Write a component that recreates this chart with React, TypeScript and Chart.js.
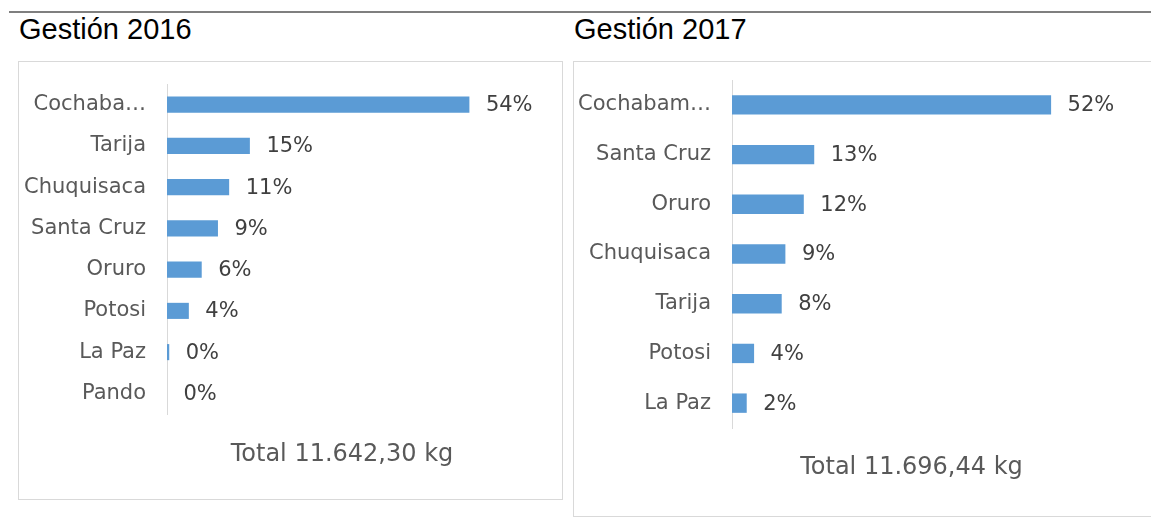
import React, { useEffect, useRef } from "react";
import { Chart, registerables } from "chart.js";

Chart.register(...registerables);

// ---- data ----
const categories2016 = ["Cochaba…", "Tarija", "Chuquisaca", "Santa Cruz", "Oruro", "Potosi", "La Paz", "Pando"];
const values2016 = [54.0, 14.8, 11.1, 9.1, 6.2, 3.9, 0.4, 0.0];
const total2016 = "Total 11.642,30 kg";
const title2016 = "Gestión 2016";

const categories2017 = ["Cochabam…", "Santa Cruz", "Oruro", "Chuquisaca", "Tarija", "Potosi", "La Paz"];
const values2017 = [52.0, 13.4, 11.7, 8.7, 8.1, 3.6, 2.4];
const total2017 = "Total 11.696,44 kg";
const title2017 = "Gestión 2017";

const FONT = "'DejaVu Sans', Verdana, sans-serif";
const BAR = "#5B9BD5";

const dataLabelPlugin = {
  id: "pctLabels",
  afterDatasetsDraw(chart: any) {
    const ctx = chart.ctx;
    const meta = chart.getDatasetMeta(0);
    const vals = chart.data.datasets[0].data as number[];
    ctx.save();
    ctx.font = `21px ${FONT}`;
    ctx.fillStyle = "#404040";
    ctx.textAlign = "left";
    ctx.textBaseline = "middle";
    meta.data.forEach((bar: any, i: number) => {
      ctx.fillText(`${Math.round(vals[i])}%`, bar.x + 16.5, bar.y + 1);
    });
    ctx.restore();
  },
};

type PanelProps = {
  width: number;
  height: number;
  labels: string[];
  values: number[];
  total: string;
  max: number;
  yWidth: number;
  padTop: number;
  padRight: number;
  padBottom: number;
  titlePadTop: number;
};

function BarPanel(p: PanelProps) {
  const ref = useRef<HTMLCanvasElement | null>(null);
  useEffect(() => {
    if (!ref.current) return;
    const chart = new Chart(ref.current, {
      type: "bar",
      data: {
        labels: p.labels,
        datasets: [
          {
            data: p.values,
            backgroundColor: BAR,
            borderWidth: 0,
            categoryPercentage: 1,
            barPercentage: 0.39,
          },
        ],
      },
      options: {
        indexAxis: "y",
        responsive: false,
        animation: false,
        events: [],
        layout: { padding: { left: 0, top: p.padTop, right: p.padRight, bottom: p.padBottom } },
        plugins: { legend: { display: false }, tooltip: { enabled: false }, title: { display: false } },
        scales: {
          x: {
            min: 0,
            max: p.max,
            ticks: { display: false },
            grid: { display: false, drawTicks: false },
            border: { display: false },
            title: {
              display: true,
              text: p.total,
              color: "#595959",
              font: { family: FONT, size: 24 },
              padding: { top: p.titlePadTop, bottom: 0 },
            },
          },
          y: {
            afterFit: (scale: any) => {
              scale.width = p.yWidth;
              scale.paddingTop = 0;
              scale.paddingBottom = 0;
            },
            ticks: {
              color: "#595959",
              font: { family: FONT, size: 21 },
              padding: 21,
              autoSkip: false,
            },
            grid: { display: false, drawTicks: false },
            border: { display: true, color: "#d9d9d9", width: 1 },
          },
        },
      },
      plugins: [dataLabelPlugin],
    } as any);
    return () => chart.destroy();
  }, []);
  return <canvas ref={ref} width={p.width} height={p.height} style={{ display: "block" }} />;
}

const titleStyle: React.CSSProperties = {
  position: "absolute",
  fontFamily: "'Liberation Sans', Arial, sans-serif",
  fontSize: 29,
  lineHeight: "29px",
  color: "#000",
  whiteSpace: "nowrap",
};

export default function App() {
  return (
    <div style={{ position: "absolute", left: 0, top: 0, width: 1151, height: 527, overflow: "hidden", background: "#fff" }}>
      <div style={{ position: "absolute", left: 9, top: 11, width: 1142, height: 2, background: "#7f7f7f" }} />
      <div style={{ ...titleStyle, left: 19, top: 15 }}>{title2016}</div>
      <div style={{ ...titleStyle, left: 574, top: 15 }}>{title2017}</div>
      <div
        style={{
          position: "absolute",
          left: 18,
          top: 61,
          width: 543,
          height: 437,
          border: "1px solid #d9d9d9",
        }}
      >
        <BarPanel
          width={543}
          height={437}
          labels={categories2016}
          values={values2016}
          total={total2016}
          max={62.5}
          yWidth={148}
          padTop={22}
          padRight={45}
          padBottom={29.6}
          titlePadTop={26.6}
        />
      </div>
      <div
        style={{
          position: "absolute",
          left: 573,
          top: 61,
          width: 600,
          height: 454,
          border: "1px solid #d9d9d9",
        }}
      >
        <BarPanel
          width={577}
          height={454}
          labels={categories2017}
          values={values2017}
          total={total2017}
          max={58.5}
          yWidth={158}
          padTop={18}
          padRight={60}
          padBottom={33.6}
          titlePadTop={25.6}
        />
      </div>
    </div>
  );
}
